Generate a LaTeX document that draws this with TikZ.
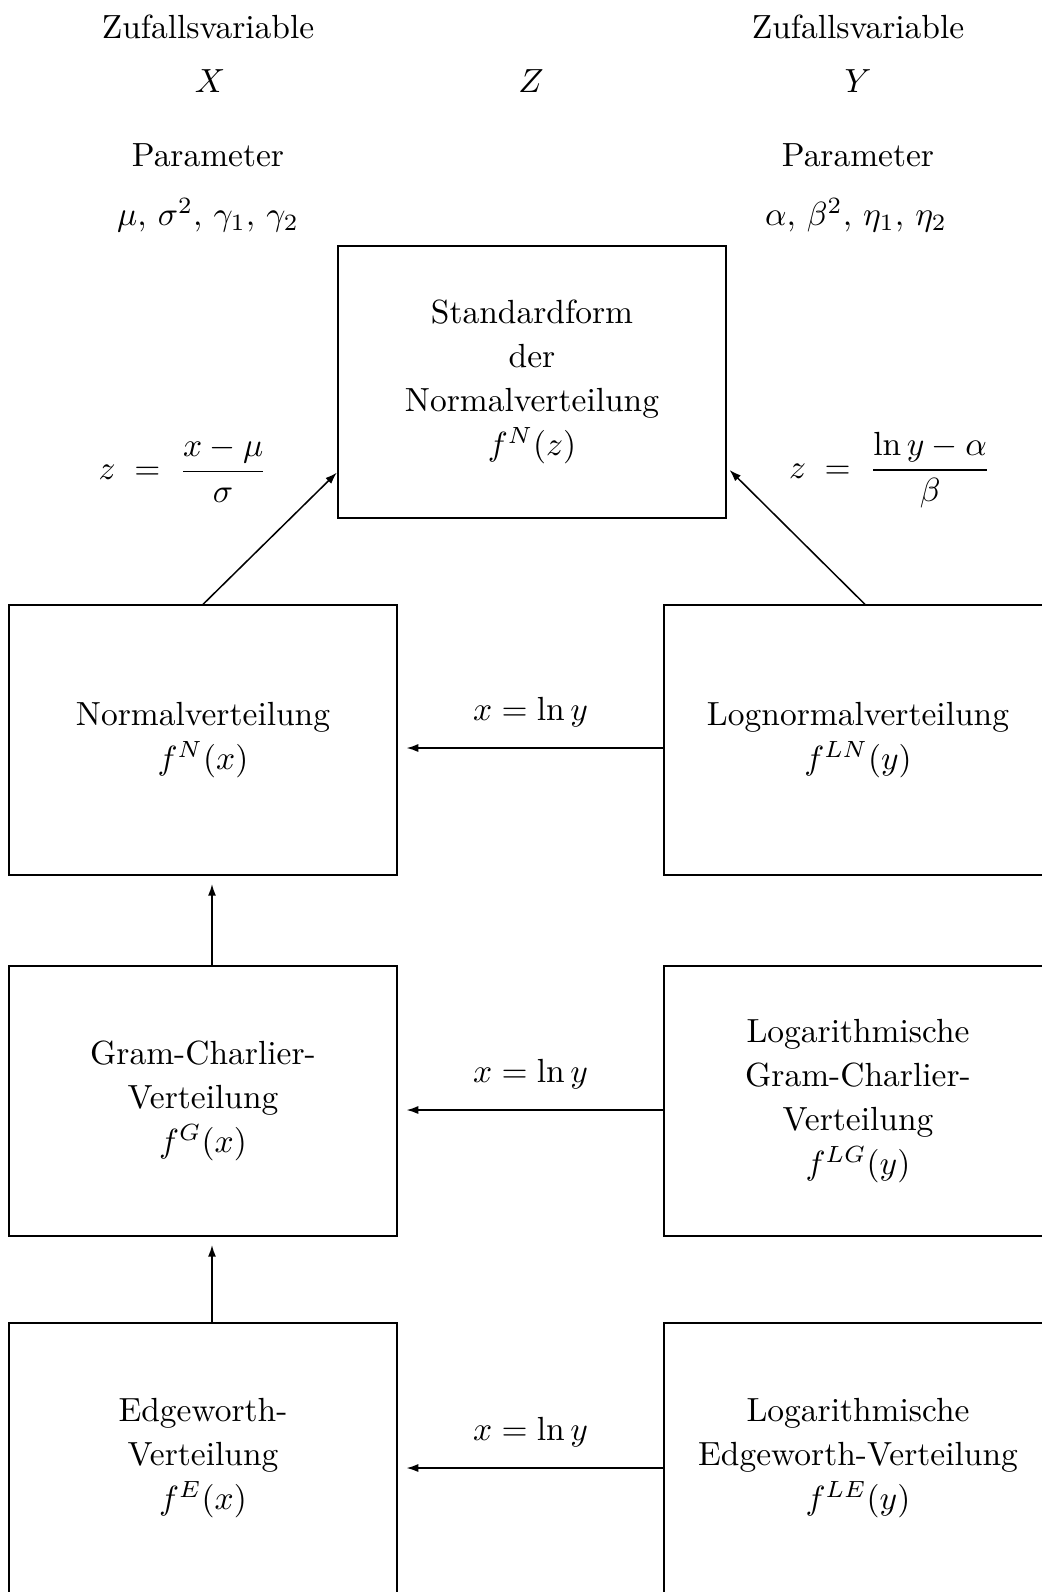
\documentclass[tikz,border=0pt]{standalone}
\usepackage{amsmath}
\usetikzlibrary{positioning}
\usetikzlibrary{arrows.meta}
\usetikzlibrary{calc}

\begin{document}
\begin{tikzpicture}[x=0.0105cm, y=-0.0105cm,
        distbox/.style={draw, rectangle, line width=0.5pt, align=center, minimum width=4.08cm, minimum height=2.83cm, font={\linespread{1.1}\selectfont}},
        header/.style={align=center},
        trans/.style={-{Latex[length=3.5pt,width=2.4pt]}, line width=0.45pt, shorten >=2.5pt}]
            % Verteilungen und Transformationen
            \useasboundingbox (0,0) rectangle (1042,1592);
            \clip (0,0) rectangle (1042,1592);

            \node[header] (zvx) at (208,27) {Zufallsvariable};
            \node[header] (varx) at (210,81) {$X$};
            \node[header] (varz) at (531,81) {$Z$};
            \node[header] (zvy) at (858,27) {Zufallsvariable};
            \node[header] (vary) at (858,81) {$Y$};
            \node[header] (parx) at (208,155) {Parameter};
            \node[header] (pary) at (858,155) {Parameter};
            \node[header] (parxv) at (208,215) {$\mu,\,\sigma^2,\,\gamma_1,\,\gamma_2$};
            \node[header] (paryv) at (856,215) {$\alpha,\,\beta^2,\,\eta_1,\,\eta_2$};

            \node[distbox, minimum height=2.85cm] (std) at (532,382) {Standardform\\der\\Normalverteilung\\$f^N(z)$};
            \node[header] (zx) at (183,470) {$z \;=\; \dfrac{x-\mu}{\sigma}$};
            \node[header] (zy) at (890,470) {$z \;=\; \dfrac{\ln y-\alpha}{\beta}$};

            \node[distbox] (normal) at (203,740) {Normalverteilung\\$f^N(x)$};
            \node[distbox] (lognormal) at (858,740) {Lognormalverteilung\\$f^{LN}(y)$};
            \node[distbox] (gram) at (203,1101) {Gram-Charlier-\\Verteilung\\$f^G(x)$};
            \node[distbox] (lgram) at (858,1101) {Logarithmische\\Gram-Charlier-\\Verteilung\\$f^{LG}(y)$};
            \node[distbox] (edge) at (203,1458) {Edgeworth-\\Verteilung\\$f^E(x)$};
            \node[distbox] (ledge) at (858,1458) {Logarithmische\\Edgeworth-Verteilung\\$f^{LE}(y)$};

            \draw[trans, shorten >=0pt] (normal.north) -- ($(std.south west)+(0,-46)$);
            \draw[trans, shorten >=1pt] ($(lognormal.north)+(7,0)$) -- ($(std.south east)+(0,-51)$);

            \draw[trans] ($(lognormal.west)+(0,8)$) -- node[above=1mm] (ln1) {$x = \ln y$} ($(normal.east)+(0,8)$);
            \draw[trans] ($(lgram.west)+(0,9)$) -- node[above=1mm] (ln2) {$x = \ln y$} ($(gram.east)+(0,9)$);
            \draw[trans] ($(ledge.west)+(0,10)$) -- node[above=1mm] (ln3) {$x = \ln y$} ($(edge.east)+(0,10)$);

            \draw[trans] ($(gram.north)+(9,0)$) -- ($(normal.south)+(9,0)$);
            \draw[trans] ($(edge.north)+(9,0)$) -- ($(gram.south)+(9,0)$);
        \end{tikzpicture}
\end{document}
